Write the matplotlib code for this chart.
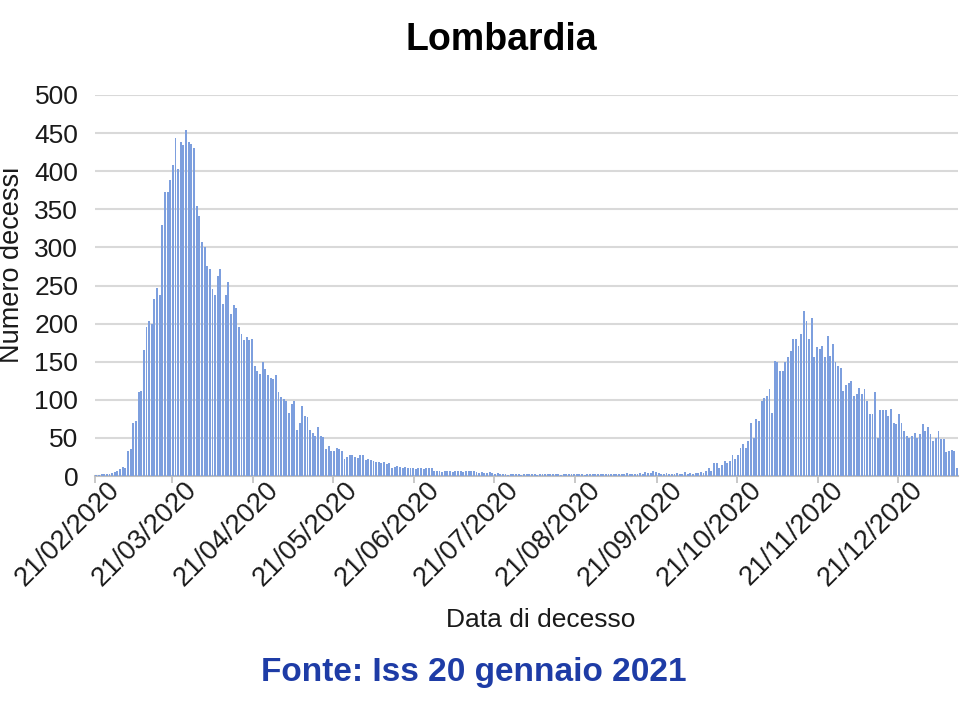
import matplotlib
matplotlib.use('Agg')
import matplotlib.pyplot as plt
import matplotlib.dates as mdates
import matplotlib.transforms as mtransforms
from matplotlib import font_manager
import numpy as np
import pandas as pd

# ---------------- data (daily deaths, Lombardia, from 21/02/2020) ----------------
start_date = '2020-02-21'
wave1_rise = [1, 1, 2, 2, 3, 3, 4, 5, 7, 9, 12, 11, 33,
              35, 70, 72, 110, 112, 165, 195, 204, 200, 232, 247, 237,
              329, 373, 373, 388, 408, 443, 403, 438, 435, 454, 438, 436, 430, 354]
wave1_fall = [341, 307, 300, 276, 272, 246, 237, 263, 272, 226, 237, 254, 212, 224,
              221, 195, 186, 178, 182, 178, 180, 145, 138, 134, 150, 140, 132, 129,
              127, 133, 110, 104, 101, 99, 83, 94, 99, 61, 70, 92, 79, 77, 61, 57,
              53, 64, 53, 51, 35, 39, 33, 33, 37, 35, 33]
late_spring = [22, 25, 28, 27, 25, 24, 28, 27, 21, 22, 21, 20, 19, 18, 17, 18, 16, 17,
               10, 12, 13, 12, 11, 12, 11, 10, 11, 9, 10, 10, 9, 10, 11, 10]
summer = [6, 7, 6, 5, 6, 7, 6, 5, 6, 6, 7, 5, 6, 6, 7, 7,
          5, 4, 5, 4, 4, 5, 4, 3, 4,
          2, 3, 2, 1, 2, 3, 2, 2, 1, 3, 2, 2, 3, 2, 1, 2, 3, 3, 2, 2,
          3, 2, 2, 1, 3, 2, 2, 3, 2, 2, 3, 2, 1, 2, 3, 2, 3, 2, 2, 3,
          2, 3, 2, 2, 3, 3, 2, 3, 4, 3, 3, 2, 3,
          4, 3, 5, 4, 4, 6, 5, 4,
          3, 2, 4, 3, 2, 3, 4, 2, 3, 5, 3, 4, 2, 4, 4, 5, 4, 6]
wave2_rise = [11, 7, 17, 17, 11, 14, 20, 17, 20, 28, 22, 28, 37, 42, 37, 46, 70, 50, 75, 72,
              99, 103, 105, 114, 83, 151, 149, 138, 138, 149, 156, 164, 180, 180,
              171, 186, 217, 204, 180, 208]
wave2_fall = [156, 169, 167, 171, 156, 184, 158, 173, 149, 145, 142, 112, 120, 122, 125,
              105, 107, 116, 107, 114, 99, 81, 81, 110, 50, 86, 86, 86, 79, 88,
              70, 68, 81, 70, 59, 53, 50, 53, 57, 50, 55, 68, 59, 64, 55,
              46, 50, 59, 48, 48, 31, 33, 34, 33, 11]

values = np.array(wave1_rise + wave1_fall + late_spring + summer + wave2_rise + wave2_fall)
dates = pd.date_range(start_date, periods=len(values), freq='D')

tick_dates = [pd.Timestamp(2020, m, 21) for m in range(2, 13)]
tick_labels = [d.strftime('%d/%m/%Y') for d in tick_dates]
y_ticks = list(range(0, 501, 50))

title = 'Lombardia'
y_label = 'Numero decessi'
x_label = 'Data di decesso'
footer = 'Fonte: Iss 20 gennaio 2021'

# ---------------- style ----------------
plt.rcParams['font.family'] = ['Liberation Sans', 'DejaVu Sans']
W, H = 980, 719
fig = plt.figure(figsize=(W / 100, H / 100), dpi=100)
ax = fig.add_axes([95 / W, 1 - 476 / H, (958 - 95) / W, (476 - 95) / H])

ax.bar(dates + pd.Timedelta(hours=12), values, width=0.72, color='#7d9fde',
       edgecolor='none', zorder=3)

x0 = mdates.date2num(pd.Timestamp(start_date))
ax.set_xlim(x0, x0 + 326.9)
ax.set_ylim(0, 500)
ax.set_yticks(y_ticks)
ax.set_xticks([mdates.date2num(d) for d in tick_dates])
ax.set_xticklabels(tick_labels, rotation=45, ha='right', va='center',
                   rotation_mode='anchor', fontsize=19.5, color='#1a1a1a')
ax.tick_params(axis='y', length=0, pad=12, labelsize=19, labelcolor='#1a1a1a')
ax.tick_params(axis='x', direction='out', length=5, width=1.2, color='#bfbfbf', pad=10)

ax.yaxis.grid(True, color='#d9d9d9', linewidth=1.5, zorder=0)
ax.set_axisbelow(True)
for s in ['top', 'right', 'left']:
    ax.spines[s].set_visible(False)
ax.spines['bottom'].set_color('#bfbfbf')
ax.spines['bottom'].set_linewidth(1.5)

offset = mtransforms.ScaledTranslation(21 / 100, 11 / 100, fig.dpi_scale_trans)
for lab in ax.get_xticklabels():
    lab.set_transform(lab.get_transform() + offset)

fig.text(501 / W, 1 - 50 / H, title, ha='center', va='baseline',
         fontsize=27, fontweight='bold', color='#000000')
fig.text(12 / W, 1 - 265 / H, y_label, ha='center', va='center', rotation=90,
         fontsize=19.5, color='#1a1a1a')
fig.text(541 / W, 1 - 620 / H, x_label, ha='center', va='center',
         fontsize=19, color='#1a1a1a')

names = {f.name for f in font_manager.fontManager.ttflist}
if 'Liberation Sans Narrow' in names:
    ffam, fsize = 'Liberation Sans Narrow', 29
else:
    ffam, fsize = 'Liberation Sans', 24
fig.text(474 / W, 1 - 672 / H, footer, ha='center', va='center',
         fontsize=fsize, fontweight='bold', color='#1e3ca6', family=ffam)

fig.savefig('out.png', dpi=100)
